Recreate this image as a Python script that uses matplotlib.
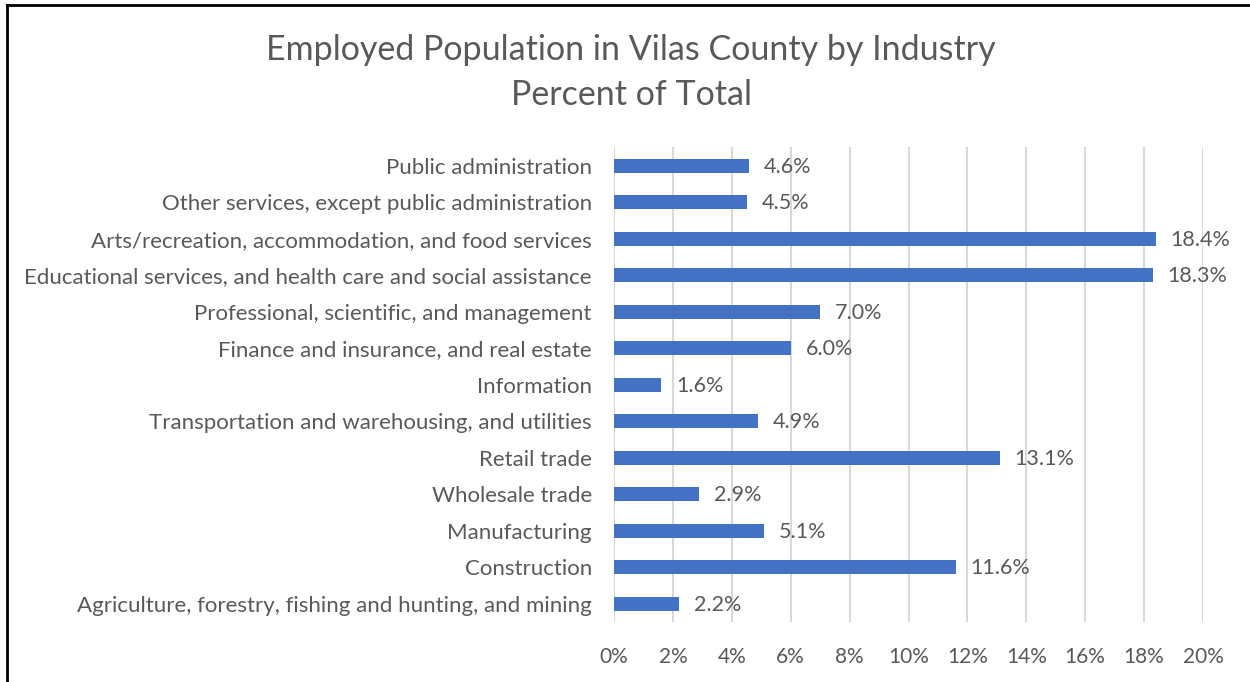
import matplotlib
matplotlib.use("Agg")
import matplotlib.pyplot as plt
from matplotlib.lines import Line2D

industries = [
    "Agriculture, forestry, fishing and hunting, and mining",
    "Construction",
    "Manufacturing",
    "Wholesale trade",
    "Retail trade",
    "Transportation and warehousing, and utilities",
    "Information",
    "Finance and insurance, and real estate",
    "Professional, scientific, and management",
    "Educational services, and health care and social assistance",
    "Arts/recreation, accommodation, and food services",
    "Other services, except public administration",
    "Public administration",
]
percents = [2.2, 11.6, 5.1, 2.9, 13.1, 4.9, 1.6, 6.0, 7.0, 18.3, 18.4, 4.5, 4.6]
x_ticks = [0, 2, 4, 6, 8, 10, 12, 14, 16, 18, 20]

TEXT = "#595959"
BAR = "#4472C4"
GRID = "#D9D9D9"

plt.rcParams['font.family'] = ['Lato', 'DejaVu Sans']

fig = plt.figure(figsize=(12.5, 6.82), dpi=100)
ax = fig.add_axes([0.4912, 0.088, 0.4712, 0.6958])

ax.barh(range(len(industries)), percents, height=0.38, color=BAR, zorder=3)
for i, v in enumerate(percents):
    ax.text(v + 0.5, i - 0.03, f"{v:.1f}%", va="center", ha="left", fontsize=15.5, color=TEXT)

ax.set_xlim(0, 20)
ax.set_ylim(-0.5, len(industries) - 0.5)
ax.set_xticks(x_ticks)
ax.set_xticklabels([f"{t}%" for t in x_ticks])
ax.set_yticks(range(len(industries)))
ax.set_yticklabels(industries)
ax.tick_params(axis="both", length=0, labelcolor=TEXT)
ax.tick_params(axis="x", pad=18, labelsize=15)
ax.tick_params(axis="y", pad=16, labelsize=16)
ax.xaxis.grid(True, color=GRID, linewidth=1.5, zorder=0)
for s in ax.spines.values():
    s.set_visible(False)

fig.text(0.505, 0.927, "Employed Population in Vilas County by Industry",
         ha="center", va="center", fontsize=24.5, color=TEXT)
fig.text(0.505, 0.861, "Percent of Total", ha="center", va="center", fontsize=24.5, color=TEXT)

# outer frame, only left and top visible in the crop
fig.add_artist(Line2D([7 / 1250, 7 / 1250], [0, 1 - 5 / 682], transform=fig.transFigure,
                      color="black", linewidth=2))
fig.add_artist(Line2D([7 / 1250, 1], [1 - 5 / 682, 1 - 5 / 682], transform=fig.transFigure,
                      color="black", linewidth=2))

fig.savefig("out.png", dpi=100)
